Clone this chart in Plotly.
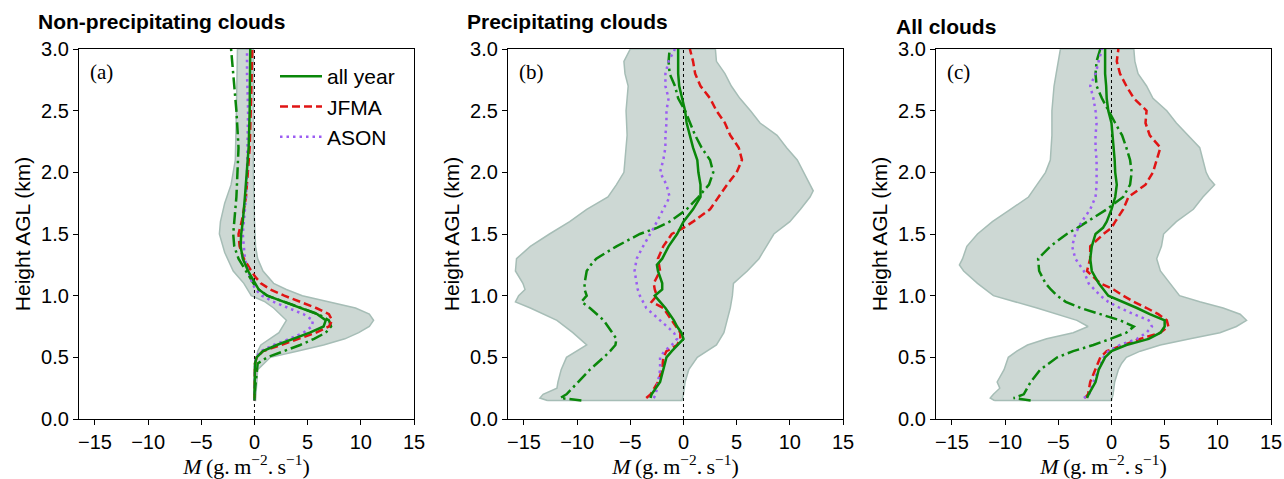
import plotly.graph_objects as go

# ---------------- data ----------------
# Panel (a): non-precipitating clouds
a_fill_left_h = [0.15, 0.40, 0.50, 0.55, 0.60, 0.70, 0.80, 0.90, 0.95, 1.00, 1.10, 1.20, 1.35, 1.50, 1.60, 1.75, 1.90, 2.10, 2.50, 3.00]
a_fill_left_x = [0.0, 0.0, 0.2, 0.3, 0.6, 2.3, 3.0, 1.8, 1.0, -0.3, -1.0, -2.0, -2.8, -3.3, -3.2, -2.8, -2.2, -1.8, -1.7, -1.6]
a_fill_right_h = [0.15, 0.40, 0.50, 0.55, 0.60, 0.65, 0.70, 0.75, 0.80, 0.85, 0.90, 0.95, 1.00, 1.05, 1.10, 1.20, 1.30, 1.40, 1.60, 2.00, 2.50, 3.00]
a_fill_right_x = [0.1, 0.3, 1.5, 4.0, 6.5, 8.5, 9.8, 10.8, 11.2, 10.8, 9.5, 7.0, 4.5, 3.0, 1.8, 0.8, 0.3, 0.1, 0.0, -0.1, -0.1, -0.1]

a_h = [0.15, 0.30, 0.45, 0.50, 0.55, 0.60, 0.65, 0.70, 0.75, 0.80, 0.85, 0.90, 0.95, 1.00, 1.05, 1.10, 1.15, 1.20, 1.30, 1.40, 1.50, 1.60, 1.80, 2.00, 2.20, 2.50, 2.80, 3.00]
a_all = [0.0, 0.0, 0.05, 0.2, 0.8, 2.1, 3.7, 5.2, 6.5, 6.7, 5.9, 4.3, 2.7, 1.2, 0.4, 0.05, -0.25, -0.6, -1.1, -1.3, -1.25, -1.1, -0.9, -0.7, -0.55, -0.45, -0.4, -0.4]
a_jfma = [0.0, 0.0, 0.05, 0.2, 0.8, 2.5, 4.2, 5.8, 7.0, 7.3, 7.0, 5.8, 4.3, 2.8, 1.5, 0.6, 0.1, -0.3, -1.0, -1.4, -1.5, -1.2, -0.8, -0.6, -0.45, -0.35, -0.25, -0.2]
a_ason = [0.0, 0.0, 0.05, 0.15, 0.6, 1.8, 3.3, 4.6, 5.4, 5.5, 4.6, 3.2, 1.8, 0.7, 0.1, -0.2, -0.4, -0.6, -0.9, -1.0, -1.1, -1.0, -0.8, -0.7, -0.65, -0.6, -0.7, -0.7]
a_dd = [0.0, 0.1, 0.3, 1.2, 2.8, 4.3, 5.6, 6.7, 7.2, 7.0, 6.0, 4.4, 2.7, 1.2, 0.4, -0.1, -0.45, -0.8, -1.5, -1.9, -2.0, -1.9, -1.7, -1.6, -1.5, -1.7, -2.0, -2.2]

# Panel (b): precipitating clouds
b_fill_left_h = [0.15, 0.17, 0.20, 0.25, 0.30, 0.40, 0.50, 0.55, 0.60, 0.70, 0.80, 0.90, 0.95, 1.00, 1.05, 1.10, 1.20, 1.30, 1.40, 1.50, 1.60, 1.70, 1.80, 1.90, 2.00, 2.10, 2.30, 2.50, 2.70, 2.80, 2.90, 3.00]
b_fill_left_x = [-12.8, -13.5, -13.2, -11.9, -11.8, -11.5, -11.0, -10.0, -9.1, -10.4, -11.9, -14.4, -15.8, -15.5, -14.9, -15.1, -15.8, -15.7, -14.4, -12.6, -10.7, -9.1, -7.1, -6.3, -5.6, -5.5, -5.3, -5.4, -5.2, -5.5, -5.6, -5.0]
b_fill_right_h = [0.15, 0.20, 0.30, 0.40, 0.50, 0.55, 0.60, 0.70, 0.80, 0.90, 1.00, 1.10, 1.20, 1.30, 1.40, 1.50, 1.60, 1.70, 1.80, 1.85, 1.90, 2.00, 2.10, 2.20, 2.30, 2.40, 2.50, 2.60, 2.70, 2.80, 2.90, 3.00]
b_fill_right_x = [-0.15, 0.0, 0.15, 0.5, 1.3, 2.2, 3.1, 3.8, 4.1, 4.4, 4.6, 4.7, 6.0, 7.1, 7.8, 8.5, 10.0, 11.0, 11.9, 12.2, 11.9, 11.3, 10.7, 9.7, 8.8, 7.2, 6.3, 5.3, 4.5, 3.9, 3.1, 3.0]

b_h = [0.17, 0.20, 0.30, 0.40, 0.50, 0.55, 0.60, 0.65, 0.70, 0.75, 0.80, 0.90, 0.95, 1.00, 1.05, 1.10, 1.20, 1.25, 1.30, 1.40, 1.50, 1.55, 1.60, 1.70, 1.80, 1.90, 2.00, 2.10, 2.20, 2.30, 2.40, 2.50, 2.60, 2.70, 2.80, 2.90, 3.00]
b_all = [-3.1, -3.0, -2.2, -1.9, -1.6, -1.1, -0.5, 0.0, -0.2, -0.6, -0.9, -1.7, -2.2, -2.7, -2.0, -2.0, -2.4, -2.5, -2.0, -1.4, -0.6, -0.3, 0.0, 0.9, 1.6, 1.6, 1.4, 1.3, 0.9, 0.6, 0.3, 0.15, -0.15, -0.4, -0.5, -0.5, -0.5]
b_jfma = [-3.5, -3.1, -2.4, -2.0, -1.9, -1.6, -0.6, -0.3, -0.3, -0.7, -1.1, -1.9, -3.0, -2.5, -2.7, -2.8, -2.2, -2.3, -2.4, -1.9, -1.1, 0.0, 0.9, 2.5, 3.3, 4.1, 5.0, 5.5, 5.2, 4.4, 3.9, 3.1, 2.5, 1.6, 1.1, 0.9, 0.6]
b_ason = [-2.8, -2.6, -2.4, -2.2, -2.2, -1.8, -1.1, -0.6, -0.9, -1.6, -2.2, -3.5, -3.8, -4.1, -4.3, -4.4, -4.6, -4.5, -4.4, -3.8, -3.1, -2.8, -2.5, -1.9, -1.3, -1.6, -2.2, -1.9, -1.7, -1.7, -1.6, -1.6, -1.4, -1.7, -1.7, -1.4, -0.8]
b_dd = [-11.6, -11.0, -9.9, -8.8, -7.5, -6.9, -6.4, -6.3, -6.7, -7.1, -7.5, -8.8, -9.6, -9.1, -9.3, -9.3, -9.1, -8.7, -8.2, -6.3, -4.1, -2.5, -1.3, 0.3, 1.4, 2.4, 2.8, 2.5, 1.7, 1.1, 0.6, 0.15, -0.5, -0.8, -1.3, -1.4, -1.3]
b_dd_base = [-9.6]

# Panel (c): all clouds
c_fill_left_h = [0.15, 0.17, 0.20, 0.25, 0.30, 0.40, 0.50, 0.55, 0.60, 0.65, 0.70, 0.75, 0.80, 0.90, 1.00, 1.10, 1.20, 1.25, 1.30, 1.40, 1.50, 1.60, 1.70, 1.80, 1.90, 2.00, 2.10, 2.30, 2.50, 2.70, 2.80, 2.90, 3.00]
c_fill_left_x = [-11.0, -11.4, -11.1, -10.5, -10.75, -10.1, -9.7, -8.9, -7.9, -6.1, -3.6, -2.2, -3.25, -7.0, -11.1, -12.6, -13.9, -14.3, -14.0, -13.6, -12.6, -11.2, -9.5, -7.8, -7.0, -6.2, -5.75, -5.6, -5.6, -5.4, -5.2, -5.0, -4.8]
c_fill_right_h = [0.15, 0.20, 0.30, 0.40, 0.45, 0.50, 0.55, 0.60, 0.65, 0.70, 0.75, 0.80, 0.85, 0.90, 0.95, 1.00, 1.10, 1.20, 1.30, 1.40, 1.50, 1.60, 1.70, 1.80, 1.90, 1.95, 2.00, 2.10, 2.20, 2.30, 2.40, 2.50, 2.60, 2.70, 2.80, 2.90, 3.00]
c_fill_right_x = [0.0, 0.15, 0.3, 0.65, 0.95, 1.4, 2.7, 4.6, 7.4, 10.2, 11.75, 12.7, 12.1, 10.5, 8.3, 6.4, 5.5, 4.6, 4.25, 4.7, 4.9, 6.1, 7.7, 8.6, 9.7, 9.2, 8.9, 8.6, 8.3, 7.2, 6.1, 5.2, 3.9, 3.3, 2.5, 2.2, 2.1]

c_h = [0.17, 0.20, 0.30, 0.40, 0.50, 0.55, 0.60, 0.65, 0.70, 0.75, 0.80, 0.85, 0.90, 0.95, 1.00, 1.05, 1.10, 1.20, 1.30, 1.40, 1.50, 1.55, 1.60, 1.70, 1.80, 1.90, 2.00, 2.10, 2.20, 2.30, 2.40, 2.50, 2.60, 2.70, 2.80, 2.90, 3.00]
c_all = [-2.3, -2.15, -1.5, -1.2, -0.6, 0.0, 1.4, 3.5, 4.6, 5.0, 5.0, 3.6, 2.4, 1.1, -0.3, -0.75, -1.2, -1.85, -2.0, -1.85, -1.5, -0.8, -0.45, 0.0, 0.35, 0.5, 0.35, 0.3, 0.2, 0.1, 0.0, -0.3, -0.45, -0.5, -0.6, -0.6, -0.6]
c_jfma = [-2.5, -2.2, -2.0, -1.5, -1.05, -0.45, 1.1, 2.7, 4.6, 5.35, 5.2, 4.4, 3.3, 2.1, 1.1, 0.2, -1.05, -2.3, -2.0, -2.0, -0.75, 0.0, 0.35, 1.1, 1.6, 3.2, 3.9, 4.25, 4.6, 3.6, 3.2, 3.3, 2.1, 1.4, 0.8, 0.5, 0.65]
c_ason = [-2.6, -2.1, -1.7, -1.2, -0.75, -0.3, 0.8, 2.4, 3.3, 3.8, 3.5, 2.1, 0.8, -0.3, -1.05, -1.6, -2.15, -2.6, -3.4, -3.7, -3.4, -3.1, -2.8, -2.0, -1.5, -1.4, -1.4, -1.4, -1.5, -1.5, -1.4, -1.5, -1.7, -2.0, -1.5, -1.2, -0.9]
c_dd = [-9.2, -8.25, -7.6, -6.7, -5.1, -3.6, -1.7, -0.1, 1.4, 2.1, 0.8, -1.05, -2.9, -4.3, -5.1, -5.7, -6.2, -6.8, -6.9, -5.75, -4.2, -3.2, -2.3, -0.45, 1.1, 1.75, 1.9, 1.75, 1.4, 1.0, 0.35, -0.3, -0.9, -1.4, -1.5, -1.4, -1.05]
c_dd_base = [-7.6]

panel_titles = ["Non-precipitating clouds", "Precipitating clouds", "All clouds"]
panel_tags = ["(a)", "(b)", "(c)"]
series_names = ["all year", "JFMA", "ASON"]
x_ticks = [-15, -10, -5, 0, 5, 10, 15]
x_tick_text = ["\u221215", "\u221210", "\u22125", "0", "5", "10", "15"]
y_ticks = [0.0, 0.5, 1.0, 1.5, 2.0, 2.5, 3.0]

# ---------------- styling ----------------
W, H = 1284, 479
GREEN = "#0a870a"
RED = "#e01414"
PURPLE = "#9b5cf2"
FILL = "#cdd8d4"
FILL_EDGE = "#a6bdb6"
SANS = "Liberation Sans, Arial, sans-serif"
SERIF = "Liberation Serif, DejaVu Serif, serif"

x_dom_px = [(79, 414), (508, 843), (936, 1271)]
y_dom = [(479 - 419) / H, (479 - 49) / H]

fig = go.Figure()

panels = [
    dict(fl=(a_fill_left_h, a_fill_left_x), fr=(a_fill_right_h, a_fill_right_x),
         h=a_h, all=a_all, jfma=a_jfma, ason=a_ason, dd=a_dd, ddh=a_h, base=None),
    dict(fl=(b_fill_left_h, b_fill_left_x), fr=(b_fill_right_h, b_fill_right_x),
         h=b_h, all=b_all, jfma=b_jfma, ason=b_ason, dd=b_dd, ddh=b_h, base=b_dd_base),
    dict(fl=(c_fill_left_h, c_fill_left_x), fr=(c_fill_right_h, c_fill_right_x),
         h=c_h, all=c_all, jfma=c_jfma, ason=c_ason, dd=c_dd, ddh=c_h, base=c_dd_base),
]

for i, p in enumerate(panels):
    xa = "x" if i == 0 else f"x{i+1}"
    ya = "y" if i == 0 else f"y{i+1}"
    lh, lx = p["fl"]
    rh, rx = p["fr"]
    poly_x = list(lx) + list(reversed(rx))
    poly_y = list(lh) + list(reversed(rh))
    poly_x.append(lx[0]); poly_y.append(lh[0])
    fig.add_trace(go.Scatter(x=poly_x, y=poly_y, mode="lines", fill="toself",
                             fillcolor=FILL, line=dict(color=FILL_EDGE, width=1.5),
                             showlegend=False, hoverinfo="skip", xaxis=xa, yaxis=ya))
    # zero line
    fig.add_trace(go.Scatter(x=[0, 0], y=[0, 3], mode="lines",
                             line=dict(color="black", width=1, dash="dot"),
                             showlegend=False, hoverinfo="skip", xaxis=xa, yaxis=ya))
    ddx = list(p["dd"]); ddy = list(p["ddh"])
    if p["base"] is not None:
        ddx = p["base"] + ddx
        ddy = [0.15] + ddy
    else:
        ddy = [0.2] + ddy[1:]
    fig.add_trace(go.Scatter(x=ddx, y=ddy, mode="lines",
                             line=dict(color=GREEN, width=2.5, dash="12px,4px,2.5px,4px"),
                             showlegend=False, xaxis=xa, yaxis=ya))
    h = p["h"]
    for name, vals, col, dash, grp in [(series_names[1], p["jfma"], RED, "8px,4px", "g2"),
                                       (series_names[2], p["ason"], PURPLE, "2.5px,4px", "g3"),
                                       (series_names[0], p["all"], GREEN, "solid", "g1")]:
        fig.add_trace(go.Scatter(x=vals, y=h, mode="lines", name=name,
                                 line=dict(color=col, width=2.5, dash=dash),
                                 legendgroup=grp, legendrank={"g1": 1, "g2": 2, "g3": 3}[grp],
                                 showlegend=(i == 0), xaxis=xa, yaxis=ya))

axis_common = dict(showline=True, linecolor="black", linewidth=1.2, mirror=True,
                   ticks="outside", ticklen=5, tickwidth=1.2, tickcolor="black",
                   showgrid=False, zeroline=False, automargin=False,
                   tickfont=dict(family=SANS, size=20, color="black"))

layout = dict(width=W, height=H, margin=dict(l=0, r=0, t=0, b=0, autoexpand=False),
              plot_bgcolor="white", paper_bgcolor="white",
              legend=dict(x=275 / W, y=1 - 56 / H, xanchor="left", yanchor="top",
                          bgcolor="rgba(0,0,0,0)", tracegroupgap=0,
                          font=dict(family=SANS, size=21, color="black"),
                          itemwidth=42),
              annotations=[])

x_title = "<i>M</i>\u2009(g.\u2009m<sup>\u22122</sup>.\u2009s<sup>\u22121</sup>)"
for i in range(3):
    sfx = "" if i == 0 else str(i + 1)
    x0, x1 = x_dom_px[i]
    layout["xaxis" + sfx] = dict(axis_common, domain=[x0 / W, x1 / W], range=[-16.5, 15],
                                 tickvals=x_ticks, ticktext=x_tick_text,
                                 anchor="y" + sfx,
                                 title=dict(text=x_title, standoff=9,
                                            font=dict(family=SERIF, size=22, color="black")))
    layout["yaxis" + sfx] = dict(axis_common, domain=list(y_dom), range=[0, 3],
                                 tickvals=y_ticks, tickformat=".1f",
                                 anchor="x" + sfx,
                                 title=dict(text="Height AGL (km)", standoff=4,
                                            font=dict(family=SANS, size=21, color="black")))

title_pos = [(36, 22), (465, 22), (894, 27)]
for i, (tx, ty) in enumerate(title_pos):
    layout["annotations"].append(dict(text="<b>" + panel_titles[i] + "</b>", xref="paper", yref="paper",
                                      x=tx / W, y=1 - ty / H, xanchor="left", yanchor="middle",
                                      showarrow=False, font=dict(family=SANS, size=21, color="black")))
    x0 = x_dom_px[i][0]
    layout["annotations"].append(dict(text=panel_tags[i], xref="paper", yref="paper",
                                      x=(x0 + 9) / W, y=1 - 72 / H, xanchor="left", yanchor="middle",
                                      showarrow=False, font=dict(family=SERIF, size=21, color="black")))

fig.update_layout(**layout)
fig.write_html("out.html")
